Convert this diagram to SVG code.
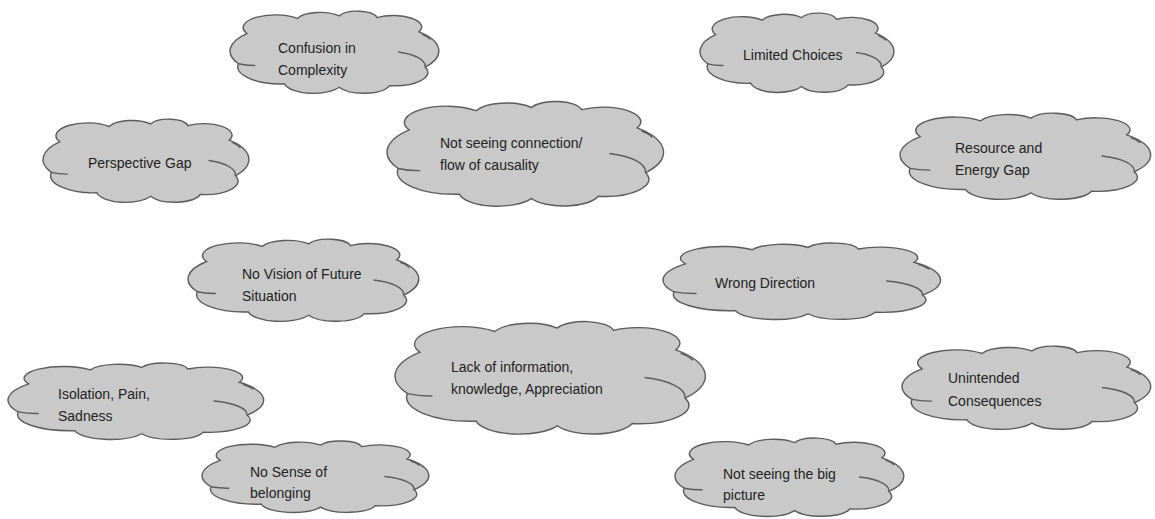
<svg xmlns="http://www.w3.org/2000/svg" xmlns:xlink="http://www.w3.org/1999/xlink" width="1155" height="519" viewBox="0 0 1155 519">
  <style>
    .cloud { fill: #c9c9c9; stroke: #5c5c5c; stroke-width: 1.4; }
    .crease { fill: none; stroke: #5c5c5c; stroke-width: 1.4; }
    .label { font-family: "Liberation Sans", Arial, sans-serif; font-size: 14px; fill: #222222; }
  </style>
  <defs>
    <!-- cloud outline drawn in a 100x100 box; each node scales it to its own size -->
    <path id="cloudOutline" vector-effect="non-scaling-stroke"
      d="M 4 64 A 31 31 0 0 1 8 28 A 15.2 15.2 0 0 1 32 10 A 12 12 0 0 1 52 7 A 9.5 9.5 0 0 1 70 9 A 13.6 13.6 0 0 1 90 26 A 32 32 0 0 1 93 68 A 16 16 0 0 1 76 90 A 13 13 0 0 1 52 92 A 14 14 0 0 1 26 88 A 20.6 20.6 0 0 1 4 64 Z"/>
    <!-- inner fold lines of the cloud -->
    <path id="cloudCreases" vector-effect="non-scaling-stroke"
      d="M 4 64 A 14 14 0 0 0 12 66 M 93 68 A 18 18 0 0 0 80 50 M 95.4 35 Q 94 31 91.5 29"/>
  </defs>

  <g id="node-confusion">
    <use xlink:href="#cloudOutline" class="cloud" transform="translate(230 10) scale(2.1 0.84)"/>
    <use xlink:href="#cloudCreases" class="crease" transform="translate(230 10) scale(2.1 0.84)"/>
    <text class="label" x="278" y="53">Confusion in</text>
    <text class="label" x="278" y="75">Complexity</text>
  </g>

  <g id="node-limited-choices">
    <use xlink:href="#cloudOutline" class="cloud" transform="translate(700 12) scale(1.95 0.81)"/>
    <use xlink:href="#cloudCreases" class="crease" transform="translate(700 12) scale(1.95 0.81)"/>
    <text class="label" x="743" y="60">Limited Choices</text>
  </g>

  <g id="node-perspective-gap">
    <use xlink:href="#cloudOutline" class="cloud" transform="translate(43 118) scale(2.07 0.85)"/>
    <use xlink:href="#cloudCreases" class="crease" transform="translate(43 118) scale(2.07 0.85)"/>
    <text class="label" x="88" y="168">Perspective Gap</text>
  </g>

  <g id="node-causality">
    <use xlink:href="#cloudOutline" class="cloud" transform="translate(387 100) scale(2.78 1.07)"/>
    <use xlink:href="#cloudCreases" class="crease" transform="translate(387 100) scale(2.78 1.07)"/>
    <text class="label" x="440" y="148">Not seeing connection/</text>
    <text class="label" x="440" y="170">flow of causality</text>
  </g>

  <g id="node-resource-gap">
    <use xlink:href="#cloudOutline" class="cloud" transform="translate(900 112) scale(2.52 0.88)"/>
    <use xlink:href="#cloudCreases" class="crease" transform="translate(900 112) scale(2.52 0.88)"/>
    <text class="label" x="955" y="153">Resource and</text>
    <text class="label" x="955" y="175">Energy Gap</text>
  </g>

  <g id="node-no-vision">
    <use xlink:href="#cloudOutline" class="cloud" transform="translate(188 238) scale(2.32 0.84)"/>
    <use xlink:href="#cloudCreases" class="crease" transform="translate(188 238) scale(2.32 0.84)"/>
    <text class="label" x="242" y="279">No Vision of Future</text>
    <text class="label" x="242" y="301">Situation</text>
  </g>

  <g id="node-wrong-direction">
    <use xlink:href="#cloudOutline" class="cloud" transform="translate(663 242) scale(2.79 0.78)"/>
    <use xlink:href="#cloudCreases" class="crease" transform="translate(663 242) scale(2.79 0.78)"/>
    <text class="label" x="715" y="288">Wrong Direction</text>
  </g>

  <g id="node-lack-of-information">
    <use xlink:href="#cloudOutline" class="cloud" transform="translate(395 320) scale(3.12 1.15)"/>
    <use xlink:href="#cloudCreases" class="crease" transform="translate(395 320) scale(3.12 1.15)"/>
    <text class="label" x="451" y="372">Lack of information,</text>
    <text class="label" x="451" y="394">knowledge, Appreciation</text>
  </g>

  <g id="node-isolation">
    <use xlink:href="#cloudOutline" class="cloud" transform="translate(8 362) scale(2.57 0.78)"/>
    <use xlink:href="#cloudCreases" class="crease" transform="translate(8 362) scale(2.57 0.78)"/>
    <text class="label" x="58" y="399">Isolation,  Pain,</text>
    <text class="label" x="58" y="421">Sadness</text>
  </g>

  <g id="node-unintended">
    <use xlink:href="#cloudOutline" class="cloud" transform="translate(902 345) scale(2.5 0.85)"/>
    <use xlink:href="#cloudCreases" class="crease" transform="translate(902 345) scale(2.5 0.85)"/>
    <text class="label" x="948" y="383">Unintended</text>
    <text class="label" x="948" y="406">Consequences</text>
  </g>

  <g id="node-no-belonging">
    <use xlink:href="#cloudOutline" class="cloud" transform="translate(202 440) scale(2.28 0.73)"/>
    <use xlink:href="#cloudCreases" class="crease" transform="translate(202 440) scale(2.28 0.73)"/>
    <text class="label" x="250" y="477">No Sense of</text>
    <text class="label" x="250" y="498">belonging</text>
  </g>

  <g id="node-big-picture">
    <use xlink:href="#cloudOutline" class="cloud" transform="translate(675 437) scale(2.3 0.8)"/>
    <use xlink:href="#cloudCreases" class="crease" transform="translate(675 437) scale(2.3 0.8)"/>
    <text class="label" x="723" y="479">Not seeing the big</text>
    <text class="label" x="723" y="500">picture</text>
  </g>

  <!-- no connectors between the clouds -->
  <g id="connectors"/>
</svg>
